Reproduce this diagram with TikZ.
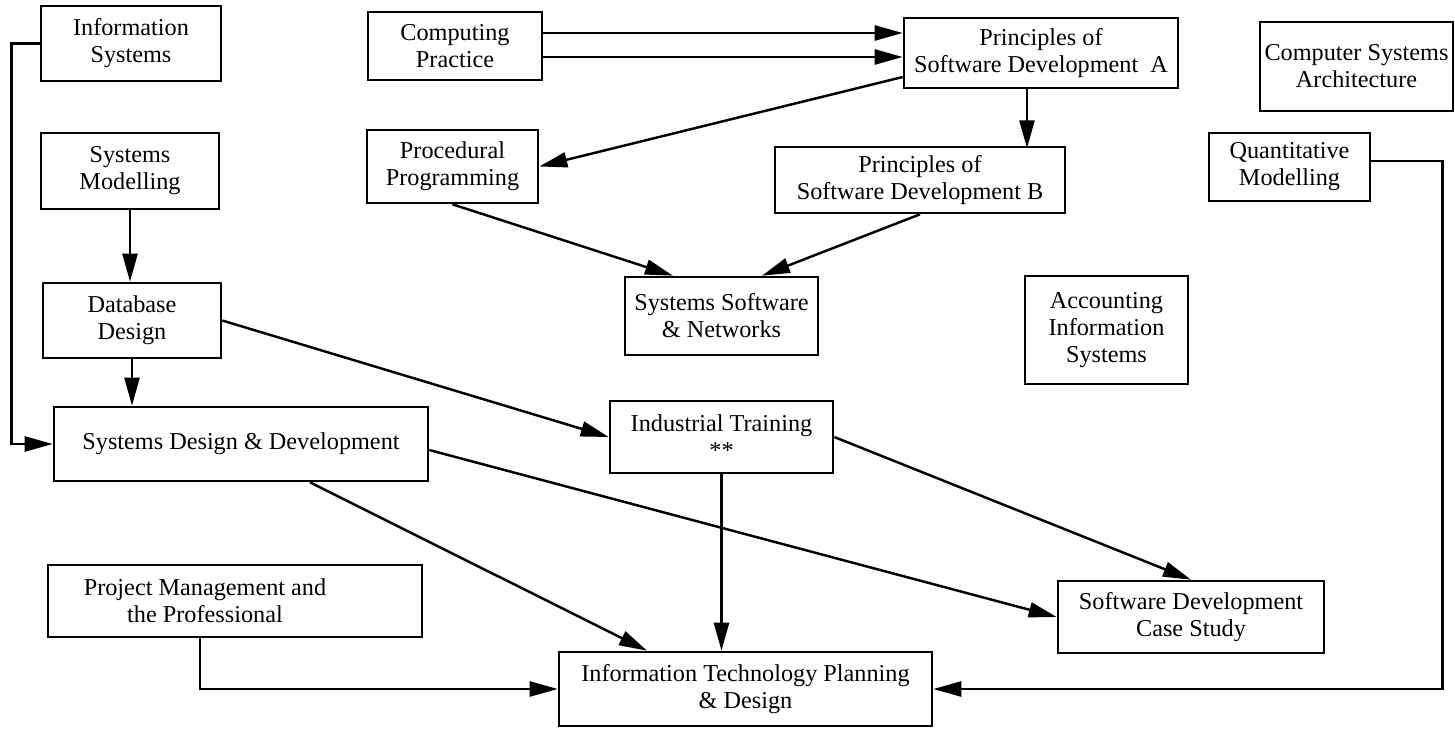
\documentclass[tikz,border=0pt]{standalone}
\usepackage{fontspec}
\setmainfont{Liberation Serif}
\usetikzlibrary{arrows.meta}

\begin{document}
\begin{tikzpicture}[x=0.02cm,y=-0.02cm,
	box/.style={draw,line width=1.5pt,inner sep=0pt,align=center,font=\fontsize{13.8pt}{15.4pt}\selectfont},
	arr/.style={line width=1.4pt,-{Triangle[length=0.56cm,width=0.3cm]}}]
	\useasboundingbox (0,0) rectangle (1455,728);

	%top row
	\node[box,minimum width=3.6cm,minimum height=1.5cm]  (infosys)  at (131,43.5)   {Information\\Systems};
	\node[box,minimum width=3.48cm,minimum height=1.36cm] (compprac) at (455,46)     {Computing\\Practice};
	\node[box,minimum width=5.48cm,minimum height=1.4cm]  (psda)     at (1041,53)    {Principles of\\Software Development\ \ A};
	\node[box,minimum width=3.86cm,minimum height=1.78cm] (csa)      at (1356.5,66.5) {Computer Systems\\Architecture};

	%second row
	\node[box,minimum width=3.56cm,minimum height=1.52cm] (sysmod)   at (130,171)    {Systems\\Modelling};
	\node[box,minimum width=3.42cm,minimum height=1.46cm] (procprog) at (452.5,166.5) {Procedural\\Programming};
	\node[box,minimum width=5.8cm,minimum height=1.32cm]  (psdb)     at (920,180)    {Principles of\\Software Development B};
	\node[box,minimum width=3.22cm,minimum height=1.36cm] (quantmod) at (1289.5,167) {Quantitative\\Modelling};

	%middle
	\node[box,minimum width=3.56cm,minimum height=1.5cm]  (dbdesign) at (132,320.5)  {Database\\Design};
	\node[box,minimum width=3.86cm,minimum height=1.56cm] (sysnet)   at (721.5,316)  {Systems Software\\\& Networks};
	\node[box,minimum width=3.26cm,minimum height=2.16cm] (accinfo)  at (1106.5,330) {Accounting\\Information\\Systems};
	\node[box,minimum width=7.48cm,minimum height=1.48cm] (sdd)      at (241,444)    {Systems Design \& Development};
	\node[box,minimum width=4.46cm,minimum height=1.44cm] (indtrain) at (721.5,437)  {Industrial Training\\**};

	%bottom
	\node[box,minimum width=7.48cm,minimum height=1.44cm] (projman)  at (235,601)    {Project Management and\hspace*{1.2cm}\\the Professional\hspace*{1.2cm}};
	\node[box,minimum width=5.32cm,minimum height=1.44cm] (sdcs)     at (1191,617)   {Software Development\\Case Study};
	\node[box,minimum width=7.46cm,minimum height=1.48cm] (itpd)     at (745.5,689)  {Information Technology Planning\\\& Design};

	%computing practice -- principles A
	\path ([yshift=0.26cm]compprac.east) coordinate (cpa) ([yshift=-0.22cm]compprac.east) coordinate (cpb);
	\draw[arr] (cpa) -- (cpa -| psda.west);
	\draw[arr] (cpb) -- (cpb -| psda.west);
	\draw[arr] ([yshift=-0.48cm]psda.west) -- (procprog.east);
	\draw[arr] ([xshift=-0.28cm]psda.south) -- ++(0,59);			%A -- B
	\draw[arr] (procprog.south) -- ([xshift=-0.97cm]sysnet.north);
	\draw[arr] (psdb.south) -- ([xshift=0.81cm]sysnet.north);

	%left column
	\draw[arr] (infosys.west) -- ++(-28,0) |- (sdd.west);
	\draw[arr] (sysmod.south) -- (sysmod.south |- dbdesign.north);
	\draw[arr] (dbdesign.south) -- (dbdesign.south |- sdd.north);
	\draw[arr] (dbdesign.east) -- (indtrain.west);

	%into the bottom boxes
	\draw[arr] ([xshift=1.38cm]sdd.south) -- ([xshift=-1.97cm]itpd.north);
	\draw[arr] ([yshift=-0.12cm]sdd.east) -- (sdcs.west);
	\draw[arr] (indtrain.south) -- (indtrain.south |- itpd.north);
	\draw[arr] (indtrain.east) -- (sdcs.north);
	\draw[arr] ([xshift=-0.7cm]projman.south) |- (itpd.west);
	\draw[arr] ([yshift=0.12cm]quantmod.east) -- ++(71,0) |- (itpd.east);	%long way round
\end{tikzpicture}
\end{document}
